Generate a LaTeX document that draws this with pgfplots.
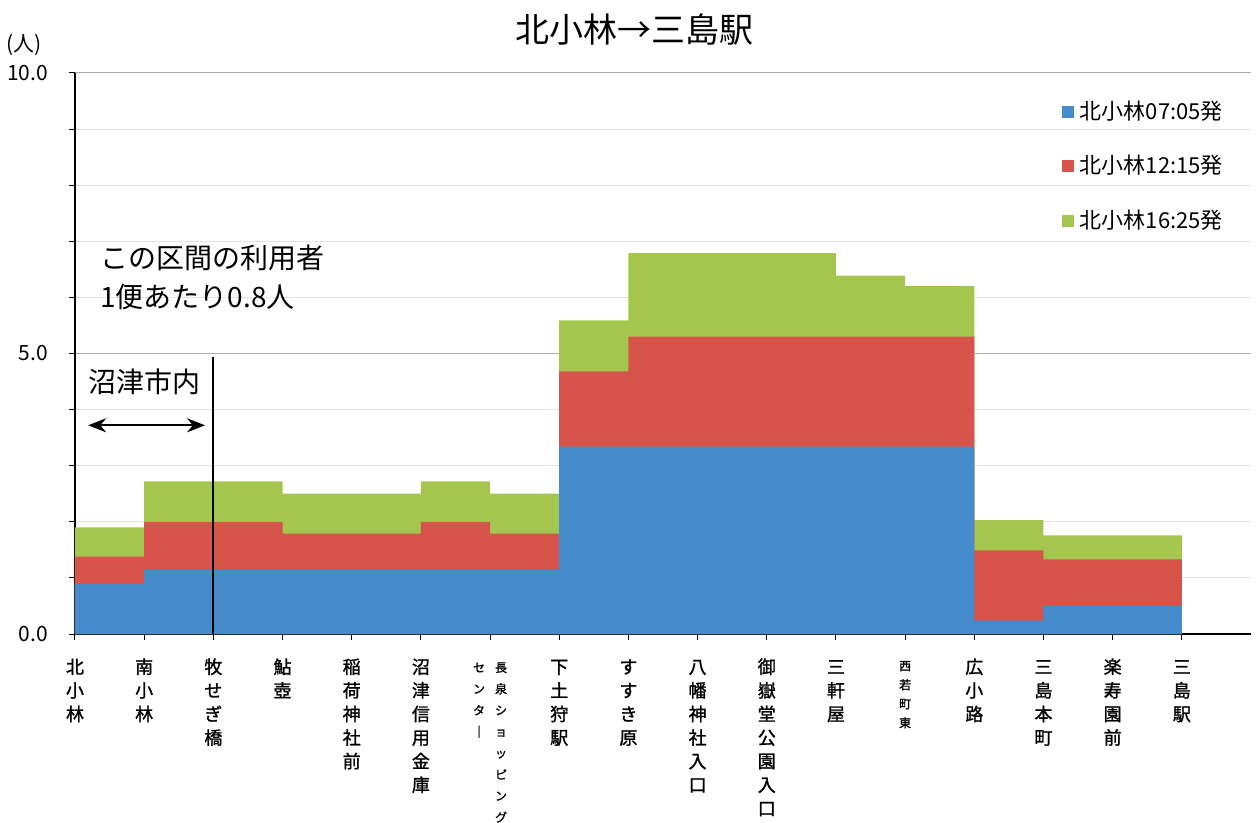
\documentclass[border=0pt]{standalone}
\usepackage{fontspec}
\setmainfont{Noto Sans CJK JP}
\newfontfamily\cjkb[FakeBold=1.3]{Noto Sans CJK JP}
\usepackage{pgfplots}
\usepackage{pgfplotstable}
\pgfplotsset{compat=1.18}
\usetikzlibrary{arrows.meta}
\definecolor{cblue}{RGB}{70,140,205}
\definecolor{cred}{RGB}{214,84,74}
\definecolor{cgreen}{RGB}{165,198,78}
\newcommand{\vt}[1]{\begin{tabular}[t]{@{}c@{}}#1\end{tabular}}
\newcommand{\vs}[1]{\begin{tabular}[t]{@{}c@{}}#1\end{tabular}}
% cumulative tops of the stacked step areas (segment i = between stop i and stop i+1)
\pgfplotstableread{
x b r g
0 0.89 1.38 1.90
1 1.14 2.00 2.72
2 1.14 2.00 2.72
3 1.14 1.79 2.50
4 1.14 1.79 2.50
5 1.14 2.00 2.72
6 1.14 1.79 2.50
7 3.34 4.68 5.59
8 3.34 5.30 6.79
9 3.34 5.30 6.79
10 3.34 5.30 6.79
11 3.34 5.30 6.39
12 3.34 5.30 6.20
13 0.24 1.49 2.03
14 0.50 1.33 1.76
15 0.50 1.33 1.76
16 0.50 1.33 1.76
}\data
\begin{document}
\begin{tikzpicture}
\begin{axis}[
  scale only axis,
  width=588pt, height=280.5pt,
  xmin=0, xmax=17, ymin=0, ymax=10,
  axis lines*=left,
  axis line style={black, line width=0.6pt},
  clip=false,
  tick align=outside,
  major tick length=3pt, minor tick length=3pt,
  tick style={black, line width=0.5pt},
  xtick={0,...,16},
  xticklabels={
    {\vt{北\\小\\林}},
    {\vt{南\\小\\林}},
    {\vt{牧\\せ\\ぎ\\橋}},
    {\vt{鮎\\壺}},
    {\vt{稲\\荷\\神\\社\\前}},
    {\vt{沼\\津\\信\\用\\金\\庫}},
    {\fontsize{6}{10.7}\selectfont\vs{セ\\ン\\タ\\｜}\hspace{5pt}\vs{長\\泉\\シ\\ョ\\ッ\\ピ\\ン\\グ}},
    {\vt{下\\土\\狩\\駅}},
    {\vt{す\\す\\き\\原}},
    {\vt{八\\幡\\神\\社\\入\\口}},
    {\vt{御\\嶽\\堂\\公\\園\\入\\口}},
    {\vt{三\\軒\\屋}},
    {\fontsize{6}{9.5}\selectfont\vs{西\\若\\町\\東}},
    {\vt{広\\小\\路}},
    {\vt{三\\島\\本\\町}},
    {\vt{楽\\寿\\園\\前}},
    {\vt{三\\島\\駅}}
  },
  xticklabel style={anchor=north, yshift=-5pt, font=\cjkb\fontsize{9}{11.8}\selectfont},
  ytick={0,5,10},
  minor y tick num=4,
  ymajorgrids, yminorgrids,
  major grid style={gray!65, line width=0.5pt},
  minor grid style={gray!22, line width=0.4pt},
  yticklabel style={xshift=-7pt, font=\fontsize{10.5}{12}\selectfont},
  /pgf/number format/assume math mode=true,
  yticklabel={\pgfmathprintnumber[fixed, fixed zerofill, precision=1]{\tick}},
  legend style={at={(rel axis cs:0.839,0.958)}, anchor=north west, draw=none, fill=none,
    inner sep=0pt, row sep=12.5pt, font=\fontsize{11}{13}\selectfont,
    nodes={inner xsep=3pt}},
  legend cell align=left,
]
\addplot[const plot, fill=cgreen, draw=none, forget plot] table[x=x, y=g]{\data} \closedcycle;
\addplot[const plot, fill=cred, draw=none, forget plot] table[x=x, y=r]{\data} \closedcycle;
\addplot[const plot, fill=cblue, draw=none, forget plot] table[x=x, y=b]{\data} \closedcycle;

\addlegendimage{legend image code/.code={\fill[cblue] (0pt,-2.75pt) rectangle (5.5pt,2.75pt);}}
\addlegendentry{北小林07:05発}
\addlegendimage{legend image code/.code={\fill[cred] (0pt,-2.75pt) rectangle (5.5pt,2.75pt);}}
\addlegendentry{北小林12:15発}
\addlegendimage{legend image code/.code={\fill[cgreen] (0pt,-2.75pt) rectangle (5.5pt,2.75pt);}}
\addlegendentry{北小林16:25発}

\draw[black, line width=1pt] (axis cs:2,0) -- (axis cs:2,4.94);
\draw[{Stealth[length=9pt,width=7pt]}-{Stealth[length=9pt,width=7pt]}, line width=1pt]
  (axis cs:0.19,3.72) -- (axis cs:1.88,3.72);
\node[anchor=west, inner sep=0pt, font=\fontsize{14}{16}\selectfont] at (axis cs:0.19,4.49) {沼津市内};
\node[anchor=west, inner sep=0pt, font=\fontsize{14}{16}\selectfont] at (axis cs:0.36,6.70) {この区間の利用者};
\node[anchor=west, inner sep=0pt, font=\fontsize{14}{16}\selectfont] at (axis cs:0.36,6.00) {1便あたり0.8人};
\node[font=\fontsize{17}{19}\selectfont] at (rel axis cs:0.476,1.077) {北小林→三島駅};
\node[font=\fontsize{10.5}{12}\selectfont] at (rel axis cs:-0.0434,1.05) {(人)};
\end{axis}
\pgfresetboundingbox
\path[use as bounding box] ([shift={(-37.5pt,-94.5pt)}]current axis.south west) rectangle ([shift={(590.5pt,317pt)}]current axis.south west);
\end{tikzpicture}
\end{document}
